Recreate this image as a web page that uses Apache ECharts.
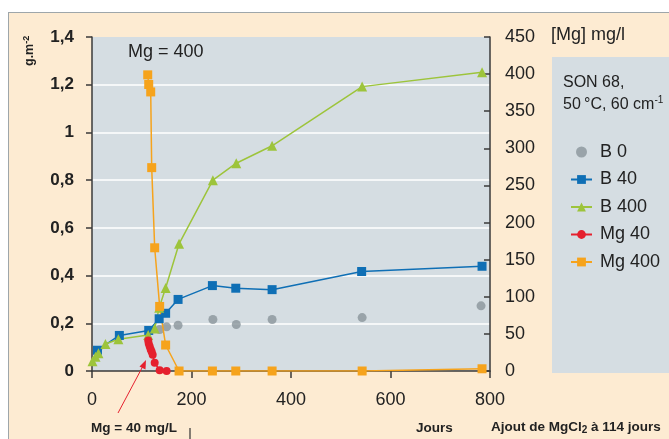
<!DOCTYPE html>
<html>
<head>
<meta charset="utf-8">
<script src="https://cdn.jsdelivr.net/npm/echarts@6/dist/echarts.min.js"></script>
<style>
  html, body { margin: 0; padding: 0; background: #ffffff; }
  #frame { position: absolute; left: 8px; top: 12px; width: 670px; height: 440px;
           background: #fdebd2; border-left: 1px solid #9ea6aa; border-top: 1px solid #9ea6aa; }
  #chart { position: absolute; left: 0; top: 0; width: 669px; height: 439px; }
</style>
</head>
<body>
<div id="frame"></div>
<div id="chart"></div>
<script>
// Days after start of test
const b0Days   = [136, 150, 173, 243, 290, 362, 543, 782];
const b0Vals   = [0.174, 0.185, 0.192, 0.216, 0.195, 0.216, 0.224, 0.273];

const b40Days  = [11, 55, 114, 135, 148, 173, 242, 289, 362, 542, 784];
const b40Vals  = [0.087, 0.149, 0.17, 0.219, 0.242, 0.30, 0.358, 0.347, 0.341, 0.417, 0.439];

const b400Days = [1, 7, 13, 27, 53, 113, 126, 135, 148, 175, 243, 290, 362, 543, 784];
const b400Vals = [0.041, 0.06, 0.074, 0.113, 0.133, 0.151, 0.178, 0.265, 0.348, 0.533, 0.80, 0.871, 0.944, 1.192, 1.252];

// Magnesium concentration in solution (mg/l)
const mg40Days  = [113, 114, 116, 118, 120, 122, 126, 136, 150];
const mg40Vals  = [41, 37, 33, 29, 26, 22, 11, 1, 0];

const mg400Days = [112, 114, 118, 120, 126, 136, 148, 175, 242, 289, 362, 543, 784];
const mg400Vals = [399, 386, 376, 274, 166, 87, 35, 0, 0, 0, 0, 0, 3];

// Axis ticks
const xTicks = { min: 0, max: 800, step: 200 };
const yLeftTicks = { min: 0, max: 1.4, step: 0.2 };
const yRightTicks = { min: 0, max: 450, step: 50 };

const seriesNames = ['B 0', 'B 40', 'B 400', 'Mg 40', 'Mg 400'];

const pairs = (xs, ys) => xs.map((d, i) => [d, ys[i]]);

const FONT = '"Liberation Sans", Arial, Helvetica, sans-serif';
const INK = '#222222';
const AXIS = '#3a3a3a';
const C_GRAY = '#8a959b', C_BLUE = '#0f6fb5', C_GREEN = '#9dc43b', C_RED = '#e5202e', C_ORANGE = '#f6a31c';

const chart = echarts.init(document.getElementById('chart'), null, { renderer: 'canvas' });

const option = {
  backgroundColor: 'transparent',
  animation: false,
  textStyle: { fontFamily: FONT },
  grid: {
    left: 92, top: 37, width: 398, height: 334,
    show: true, backgroundColor: '#d5dde2', borderWidth: 0
  },
  xAxis: {
    type: 'value', min: xTicks.min, max: xTicks.max, interval: xTicks.step,
    axisLine: { show: true, onZero: false, lineStyle: { color: AXIS, width: 1.5 } },
    axisTick: { show: true, inside: false, length: 7, lineStyle: { color: AXIS, width: 1.5 } },
    axisLabel: { margin: 20, fontSize: 18, color: INK, fontFamily: FONT },
    splitLine: { show: false }
  },
  yAxis: [
    {
      type: 'value', position: 'left', min: yLeftTicks.min, max: yLeftTicks.max, interval: yLeftTicks.step,
      axisLine: { show: true, lineStyle: { color: AXIS, width: 1.5 } },
      axisTick: { show: true, inside: false, length: 6, lineStyle: { color: AXIS, width: 1.5 } },
      axisLabel: {
        margin: 18, fontSize: 17, fontWeight: 'bold', color: INK, fontFamily: FONT,
        formatter: v => String(Number(v.toFixed(1))).replace('.', ',')
      },
      splitLine: {
        show: true,
        lineStyle: { color: ['rgba(0,0,0,0)', '#ffffff', '#ffffff', '#ffffff', '#ffffff', '#ffffff', '#ffffff', 'rgba(0,0,0,0)'], width: 1.5 }
      }
    },
    {
      type: 'value', position: 'right', min: yRightTicks.min, max: yRightTicks.max, interval: yRightTicks.step,
      axisLine: { show: true, lineStyle: { color: AXIS, width: 1.5 } },
      axisTick: { show: true, inside: true, length: 6, lineStyle: { color: AXIS, width: 1.5 } },
      axisLabel: { margin: 15, fontSize: 18, color: INK, fontFamily: FONT },
      splitLine: { show: false }
    }
  ],
  legend: {
    orient: 'vertical', left: 570, top: 143, padding: 0,
    itemWidth: 21, itemHeight: 11, itemGap: 9.5,
    textStyle: { fontSize: 18, color: INK, fontFamily: FONT, padding: [0, 0, 0, 3] },
    data: seriesNames
  },
  series: [
    {
      name: seriesNames[0], type: 'scatter', yAxisIndex: 0,
      symbol: 'circle', symbolSize: 9,
      itemStyle: { color: C_GRAY },
      data: pairs(b0Days, b0Vals)
    },
    {
      name: seriesNames[1], type: 'line', yAxisIndex: 0,
      symbol: 'rect', symbolSize: 9, showAllSymbol: true,
      lineStyle: { color: C_BLUE, width: 1.5 }, itemStyle: { color: C_BLUE },
      data: pairs(b40Days, b40Vals)
    },
    {
      name: seriesNames[2], type: 'line', yAxisIndex: 0,
      symbol: 'triangle', symbolSize: 10, showAllSymbol: true,
      lineStyle: { color: C_GREEN, width: 1.5 }, itemStyle: { color: C_GREEN },
      data: pairs(b400Days, b400Vals)
    },
    {
      name: seriesNames[3], type: 'line', yAxisIndex: 1,
      symbol: 'circle', symbolSize: 8, showAllSymbol: true,
      lineStyle: { color: C_RED, width: 1.5 }, itemStyle: { color: C_RED },
      data: pairs(mg40Days, mg40Vals)
    },
    {
      name: seriesNames[4], type: 'line', yAxisIndex: 1,
      symbol: 'rect', symbolSize: 9, showAllSymbol: true,
      lineStyle: { color: C_ORANGE, width: 1.5 }, itemStyle: { color: C_ORANGE },
      data: pairs(mg400Days, mg400Vals)
    }
  ],
  graphic: [
    // legend panel
    { type: 'rect', z: -5, shape: { x: 552, y: 57, width: 120, height: 316 }, style: { fill: '#d5dde2' } },
    { type: 'text', left: 563, top: 75, style: { text: 'SON 68,', font: '16px ' + FONT, fill: INK } },
    {
      type: 'text', left: 563, top: 95,
      style: {
        text: '{n|50\u202f°C, 60 cm}{s|-1}',
        fill: INK,
        rich: {
          n: { font: '16px ' + FONT, fill: INK, verticalAlign: 'bottom' },
          s: { font: '10px ' + FONT, fill: INK, verticalAlign: 'top', padding: [0, 0, 8, 0] }
        }
      }
    },
    // headings
    { type: 'text', left: 128, top: 43, style: { text: 'Mg = 400', font: '18px ' + FONT, fill: INK } },
    { type: 'text', left: 551, top: 26, style: { text: '[Mg] mg/l', font: '18px ' + FONT, fill: INK } },
    {
      type: 'text', x: 22, y: 66, rotation: Math.PI / 2,
      style: {
        text: '{n|g.m}{s|-2}',
        rich: {
          n: { font: 'bold 12.5px ' + FONT, fill: INK, verticalAlign: 'bottom' },
          s: { font: 'bold 9px ' + FONT, fill: INK, verticalAlign: 'top', padding: [0, 0, 5, 0] }
        }
      }
    },
    // footer notes
    { type: 'text', left: 91, top: 421, style: { text: 'Mg = 40 mg/L', font: 'bold 13.5px ' + FONT, fill: INK } },
    { type: 'line', shape: { x1: 190, y1: 428, x2: 190, y2: 440 }, style: { stroke: '#333', lineWidth: 1.2 } },
    { type: 'text', left: 416, top: 421, style: { text: 'Jours', font: 'bold 13.5px ' + FONT, fill: INK } },
    {
      type: 'text', left: 491, top: 420,
      style: {
        text: '{n|Ajout de MgCl}{s|2}{n| à 114 jours}',
        rich: {
          n: { font: 'bold 13.5px ' + FONT, fill: INK },
          s: { font: 'bold 10px ' + FONT, fill: INK, padding: [6, 0, 0, 0] }
        }
      }
    },
    // pointer to the Mg 40 curve
    { type: 'line', z: 50, shape: { x1: 118, y1: 413, x2: 143, y2: 366 }, style: { stroke: C_RED, lineWidth: 1 } },
    { type: 'polygon', z: 50, shape: { points: [[146, 360], [139.5, 366.5], [145.5, 369.5]] }, style: { fill: C_RED } }
  ]
};

chart.setOption(option);
</script>
</body>
</html>
